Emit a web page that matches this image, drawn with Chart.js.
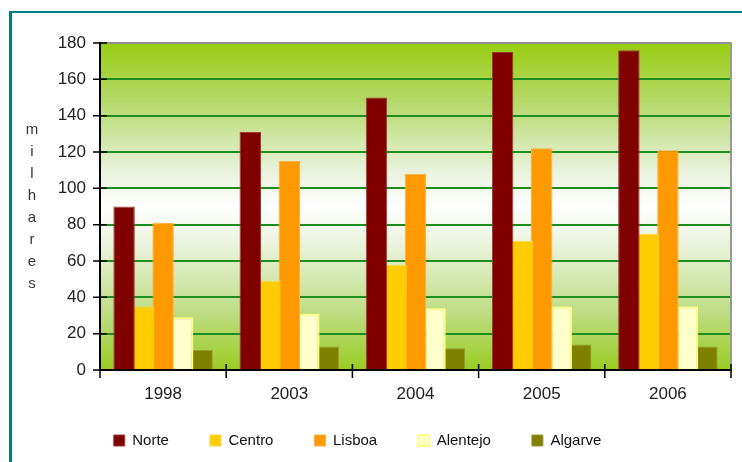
<!DOCTYPE html>
<html>
<head>
<meta charset="utf-8">
<script src="https://cdn.jsdelivr.net/npm/chart.js@4/dist/chart.umd.min.js"></script>
<style>
  html, body { margin: 0; padding: 0; background: #fff; }
  #frame { position: absolute; left: 9px; top: 11px; width: 733px; height: 451px;
           border-left: 3px solid #008080; border-top: 2px solid #008080; box-sizing: border-box; }
  #chart { position: absolute; left: 0; top: 0; }
</style>
</head>
<body>
<div id="frame"></div>
<canvas id="chart" width="742" height="462"></canvas>
<script>
var years = ['1998', '2003', '2004', '2005', '2006'];
var norte = [90, 131, 150, 175, 176];
var centro = [35, 49, 58, 71, 75];
var lisboa = [81, 115, 108, 122, 121];
var alentejo = [29, 31, 34, 35, 35];
var algarve = [11, 13, 12, 14, 13];
var regions = ['Norte', 'Centro', 'Lisboa', 'Alentejo', 'Algarve'];
var yTitle = 'milhares';
var yMax = 180;
var yStep = 20;

var fontFamily = '"Liberation Sans", Arial, sans-serif';

var backdrop = {
    id: 'backdrop',
    afterLayout: function (c) {
        // nudge legend a bit to the left, like the original
        c.legend.left -= 8;
        c.legend.right -= 8;
        // let the year labels use the space above the legend row
        c.scales.x.bottom += 20;
        c.scales.x.height += 20;
    },
    beforeDraw: function (c) {
        var a = c.chartArea, ctx = c.ctx;
        var g = ctx.createLinearGradient(0, a.top, 0, a.bottom);
        g.addColorStop(0, '#99cc11');
        g.addColorStop(0.18, '#b5d96a');
        g.addColorStop(0.38, '#e6f1d6');
        g.addColorStop(0.5, '#ffffff');
        g.addColorStop(0.62, '#e9f3da');
        g.addColorStop(0.82, '#bfdd86');
        g.addColorStop(1, '#99cc22');
        ctx.save();
        ctx.fillStyle = g;
        ctx.fillRect(a.left, a.top, a.width, a.height);
        ctx.restore();
    },
    afterDraw: function (c) {
        var a = c.chartArea, ctx = c.ctx, y = c.scales.y;
        ctx.save();
        // right edge of plot frame
        ctx.strokeStyle = '#999';
        ctx.lineWidth = 2;
        ctx.beginPath();
        ctx.moveTo(a.right, a.top - 1);
        ctx.lineTo(a.right, a.bottom);
        ctx.stroke();
        // tick marks crossing the axes
        ctx.strokeStyle = '#000';
        ctx.lineWidth = 1.5;
        ctx.beginPath();
        y.ticks.forEach(function (t) {
            var py = y.getPixelForValue(t.value);
            ctx.moveTo(a.left - 7, py);
            ctx.lineTo(a.left + 7, py);
        });
        var step = a.width / years.length;
        for (var i = 0; i <= years.length; i++) {
            var px = a.left + i * step;
            ctx.moveTo(px, a.bottom - 6);
            ctx.lineTo(px, a.bottom + 8);
        }
        ctx.stroke();
        // stacked axis title
        ctx.fillStyle = '#333';
        ctx.font = '15px ' + fontFamily;
        ctx.textAlign = 'center';
        ctx.textBaseline = 'middle';
        var mid = a.top + a.height / 2;
        yTitle.split('').forEach(function (ch, i) {
            ctx.fillText(ch, 32, mid + (i - 3.5) * 22);
        });
        ctx.restore();
    }
};

var ctx = document.getElementById('chart').getContext('2d');

var chart = new Chart(ctx, {
    type: 'bar',
    data: {
        labels: years,
        datasets: [
            { label: regions[0], data: norte, backgroundColor: '#800000', borderColor: '#a03a3a', borderWidth: 1 },
            { label: regions[1], data: centro, backgroundColor: '#ffcc00', borderColor: '#ffd740', borderWidth: 1 },
            { label: regions[2], data: lisboa, backgroundColor: '#ff9900', borderColor: '#ffae40', borderWidth: 1 },
            { label: regions[3], data: alentejo, backgroundColor: '#ffffcc', borderColor: '#ffff88', borderWidth: 2 },
            { label: regions[4], data: algarve, backgroundColor: '#808000', borderColor: '#99993a', borderWidth: 1 }
        ]
    },
    options: {
        responsive: false,
        animation: false,
        datasets: {
            bar: { categoryPercentage: 0.773, barPercentage: 1.1 }
        },
        layout: {
            padding: { top: 43, right: 11, bottom: 4, left: 0 }
        },
        plugins: {
            tooltip: { enabled: false },
            legend: {
                position: 'bottom',
                labels: {
                    boxWidth: 11,
                    boxHeight: 11,
                    padding: 41,
                    color: '#111',
                    font: { family: fontFamily, size: 15 }
                }
            }
        },
        scales: {
            x: {
                grid: { drawOnChartArea: false, drawTicks: false },
                border: { color: '#000', width: 2 },
                ticks: { color: '#222', padding: 14, font: { family: fontFamily, size: 17 } },
                afterFit: function (s) { s.height = 22; }
            },
            y: {
                min: 0,
                max: yMax,
                ticks: { stepSize: yStep, color: '#222', padding: 14, font: { family: fontFamily, size: 17 } },
                grid: {
                    drawTicks: false,
                    lineWidth: 2,
                    color: function (c) {
                        if (c.tick.value === 0) return 'rgba(0,0,0,0)';
                        if (c.tick.value === yMax) return '#8f8f8f';
                        return '#1f8c1f';
                    }
                },
                border: { color: '#000', width: 2 },
                afterFit: function (s) { s.width = 100; }
            }
        }
    },
    plugins: [backdrop]
});
</script>
</body>
</html>
